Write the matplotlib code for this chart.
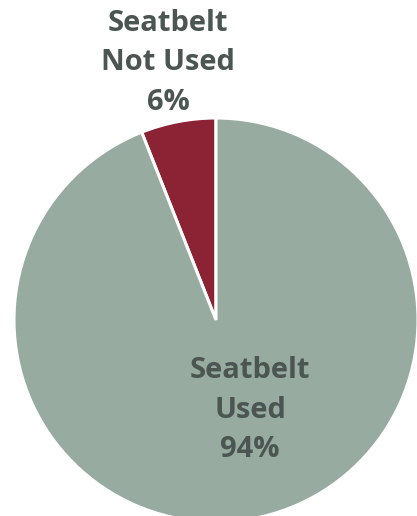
import matplotlib
matplotlib.use("Agg")
import matplotlib.pyplot as plt

labels = ["Seatbelt\nNot Used", "Seatbelt\nUsed"]
values = [6, 94]
colors = ["#8b2334", "#97aba1"]

W, H = 417, 516
fig = plt.figure(figsize=(W / 100, H / 100), dpi=100)
ax = fig.add_axes([0, 0, 1, 1])
ax.set_xlim(0, W)
ax.set_ylim(0, H)
ax.set_aspect("equal")
ax.axis("off")

cx, cy, R = 216, H - 320, 202
ax.pie(values, colors=colors, startangle=90, counterclock=True,
       center=(cx, cy), radius=R,
       wedgeprops=dict(edgecolor="white", linewidth=2.2))
ax.set_xlim(0, W)
ax.set_ylim(0, H)

txt_color = "#4b5552"
font = ["Open Sans", "DejaVu Sans"]
pos = [(168, H - 63), (250, H - 410)]
for (x, y), lab, v in zip(pos, labels, values):
    ax.text(x, y, f"{lab}\n{v}%", ha="center", va="center",
            fontsize=21, fontweight="bold", color=txt_color,
            family=font, linespacing=1.47)

fig.savefig("out.png", dpi=100)
